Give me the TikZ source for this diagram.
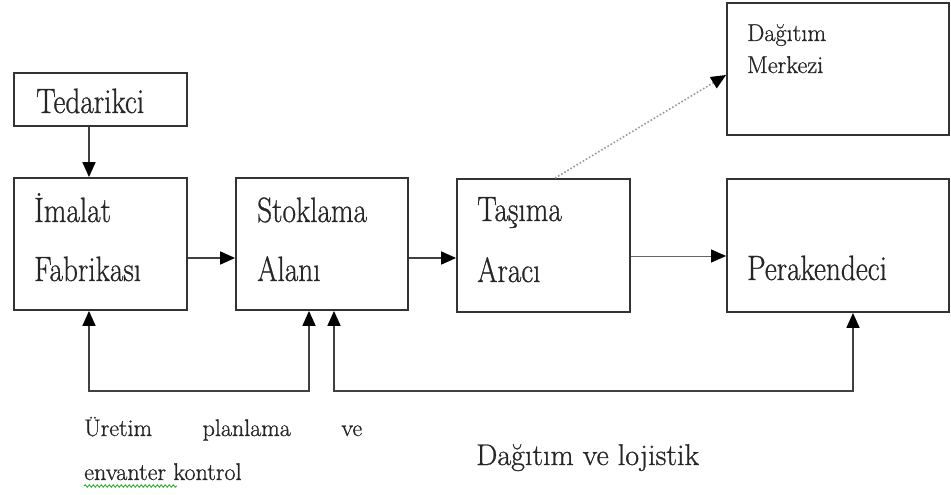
\documentclass[tikz,border=0pt]{standalone}
\usepackage{fontspec}
\setmainfont{Latin Modern Roman}[FakeBold=0.8]
\usetikzlibrary{arrows.meta,decorations.pathmorphing}
\newcommand{\bigtxt}[1]{\scalebox{1}[1.2]{\fontsize{29.3}{34}\selectfont #1}}
\begin{document}
\begin{tikzpicture}[x=1pt,y=-1pt,
  tip/.style={-{Triangle[length=15pt,width=13pt,color=black,fill=black]}},
  box/.style={draw=black!80,line width=1.8pt,inner sep=0pt,minimum width=#1},
  lbl/.style={anchor=base west,inner sep=0pt,text=black!85},
  link/.style={draw=black!75,line width=1.6pt,tip},
  thin link/.style={draw=black!60,line width=1pt,tip},
  both/.style={draw=black!75,line width=1.6pt,
    {Triangle[length=15pt,width=13pt,color=black,fill=black]}-{Triangle[length=15pt,width=13pt,color=black,fill=black]}},
  faint/.style={draw=black!40,line width=1.6pt,dotted,tip}]
\useasboundingbox (0,0) rectangle (951,495);

% boxes
\node[box=173pt,minimum height=53pt]  (ted) at (100.5,99.5) {};
\node[box=173pt,minimum height=132pt] (ima) at (100.5,244) {};
\node[box=172pt,minimum height=132pt] (sto) at (322,244) {};
\node[box=173pt,minimum height=133pt] (tas) at (543.5,245.5) {};
\node[box=222pt,minimum height=132pt] (mer) at (838,69) {};
\node[box=222pt,minimum height=133pt] (per) at (838,245.5) {};

% box labels
\node[lbl] (tedT) at (36,113)  {\bigtxt{Tedarikci}};
\node[lbl] (imaA) at (34,222)  {\bigtxt{İmalat}};
\node[lbl] (imaB) at (34,281)  {\bigtxt{Fabrikası}};
\node[lbl] (stoA) at (257,222) {\bigtxt{Stoklama}};
\node[lbl] (stoB) at (257,281) {\bigtxt{Alanı}};
\node[lbl] (tasA) at (477,221) {\bigtxt{Taşıma}};
\node[lbl] (tasB) at (477,282) {\bigtxt{Aracı}};
\node[lbl] (merA) at (747,41)  {\fontsize{24.3}{29}\selectfont Dağıtım};
\node[lbl] (merB) at (747,73)  {\fontsize{24.3}{29}\selectfont Merkezi};
\node[lbl] (perA) at (747,280) {\bigtxt{Perakendeci}};

% main flow
\draw[link] ([xshift=-11.5pt]ted.south) -- ([xshift=-11.5pt]ima.north);
\draw[link] ([yshift=-14pt]ima.east) -- ([yshift=-14pt]ima.east -| sto.west);
\draw[link] ([yshift=-14pt]sto.east) -- ([yshift=-14pt]sto.east -| tas.west);
\draw[thin link] ([yshift=-10.5pt]tas.east) -- ([yshift=-10.5pt]tas.east -| per.west);
\draw[faint] ([xshift=11.5pt]tas.north) -- ([yshift=-6pt]mer.west);

% feedback loops
\draw[both] ([xshift=-11.5pt]ima.south) -- ++(0,80) -| ([xshift=-13pt]sto.south);
\draw[both] ([xshift=12pt]sto.south) -- ++(0,80) -| ([xshift=15pt]per.south);

% captions
\node[anchor=base west,inner sep=0pt,text width=278pt,text=black!85] (cap1) at (84,436)
  {\fontsize{24}{29}\selectfont Üretim\hfill planlama\hfill ve};
\node[lbl] (cap2) at (84,480) {\fontsize{24.2}{29}\selectfont envanter kontrol};
\draw[green!60!black!80,line width=0.9pt,decorate,
  decoration={snake,amplitude=1.3pt,segment length=4pt}]
  ([yshift=-6pt]cap2.base west) -- ++(93,0);
\node[lbl] (cap3) at (476,465) {\fontsize{30}{36}\selectfont Dağıtım ve lojistik};
\end{tikzpicture}
\end{document}
